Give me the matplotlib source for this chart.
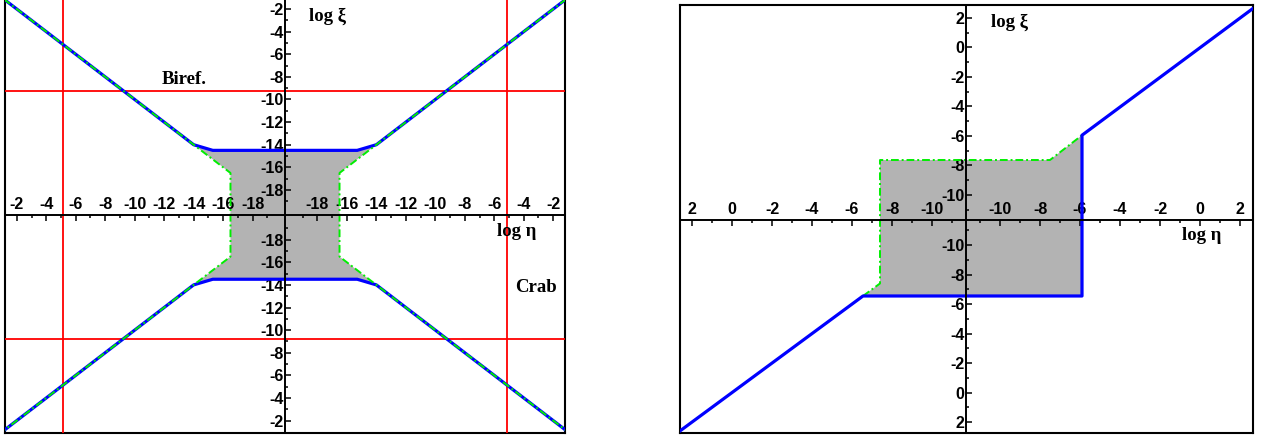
import numpy as np
import matplotlib
matplotlib.use('Agg')
import matplotlib.pyplot as plt

plt.rcParams['font.family'] = ['Liberation Sans', 'DejaVu Sans']

# both axes are folded: each half shows log10|value|, the centre is the smallest value
centre_l = -20.2
centre_r = -11.7

# ---- left panel data (sign picks the half, log is log10 of |value|) ----
blue_l_eta_sign = [-1, -1, -1, 1, 1, 1]
blue_l_eta_log = [0, -14, -15.3, -15.3, -14, 0]
blue_l_xi_log = [0, -14, -14.5, -14.5, -14, 0]

green_l_eta_log = [0, -16.5, -16.5, 0]
green_l_xi_sign = [1, 1, -1, -1]
green_l_xi_log = [0, -16.5, -16.5, 0]

shade_l_eta_sign = [-1, -1, 1, 1, 1, 1, 1, 1, -1, -1, -1, -1]
shade_l_eta_log = [-14, -15.3, -15.3, -14, -16.5, -16.5, -14, -15.3, -15.3, -14, -16.5, -16.5]
shade_l_xi_sign = [1, 1, 1, 1, 1, -1, -1, -1, -1, -1, -1, 1]
shade_l_xi_log = [-14, -14.5, -14.5, -14, -16.5, -16.5, -14, -14.5, -14.5, -14, -16.5, -16.5]

biref_xi_log = -9.25
crab_eta_log = -5.15

ticks_l = [-2, -4, -6, -8, -10, -12, -14, -16, -18]
minor_l = [-3, -5, -7, -9, -11, -13, -15, -17, -19]

# ---- right panel data ----
blue_r_eta_sign = [-1, -1, 1, 1, 1]
blue_r_eta_log = [3, -6.55, -5.9, -5.9, 3]
blue_r_xi_sign = [-1, -1, -1, 1, 1]
blue_r_xi_log = [3, -6.55, -6.55, -5.95, 3]

green_r_eta_sign = [-1, -1, -1, 1, 1]
green_r_eta_log = [-6.55, -7.4, -7.4, -7.5, -5.9]
green_r_xi_sign = [-1, -1, 1, 1, 1]
green_r_xi_log = [-6.55, -7.4, -7.63, -7.63, -5.95]

shade_r_eta_sign = [-1, 1, 1, 1, -1, -1]
shade_r_eta_log = [-7.4, -7.5, -5.9, -5.9, -6.55, -7.4]
shade_r_xi_sign = [1, 1, 1, -1, -1, -1]
shade_r_xi_log = [-7.63, -7.63, -5.95, -6.55, -6.55, -7.4]

ticks_r = [2, 0, -2, -4, -6, -8, -10]
minor_r = [1, -1, -3, -5, -7, -9, -11]


def fold(sign, logv, centre):
    return np.asarray(sign) * (np.asarray(logv, dtype=float) - centre)


W, H = 1261, 438
fig = plt.figure(figsize=(W / 100, H / 100), dpi=100)

BLUE = '#0000ff'
GREEN = '#00ee00'
GREY = '#b3b3b3'


def make_axes(rect, xlim, ylim, centre, ticks, minor, top_frame=True):
    frame = fig.add_axes(rect)
    frame.set_xticks([])
    frame.set_yticks([])
    for s in frame.spines.values():
        s.set_linewidth(1.5)
    frame.spines['top'].set_visible(top_frame)

    ax = fig.add_axes(rect)
    ax.patch.set_alpha(0)
    ax.set_xlim(*xlim)
    ax.set_ylim(*ylim)
    ax.spines['bottom'].set_visible(False)
    ax.spines['right'].set_visible(False)
    ax.spines['top'].set_position(('data', 0))
    ax.spines['left'].set_position(('data', 0))
    ax.spines['top'].set_linewidth(1.4)
    ax.spines['left'].set_linewidth(1.4)
    ax.spines['top'].set_zorder(5)
    ax.spines['left'].set_zorder(5)

    pos = np.concatenate([fold(-1, ticks, centre), fold(1, ticks, centre)])
    labs = [str(t) for t in ticks] * 2
    mpos = np.concatenate([fold(-1, minor, centre), fold(1, minor, centre)])
    ax.set_xticks(pos, labs, fontweight='bold', fontsize=11.5)
    ax.set_xticks(mpos, minor=True)
    ax.set_yticks(pos, labs, fontweight='bold', fontsize=11.5)
    ax.set_yticks(mpos, minor=True)
    ax.xaxis.set_ticks_position('top')
    ax.yaxis.set_ticks_position('left')
    ax.tick_params(axis='x', which='both', direction='in', top=True, bottom=False,
                   labeltop=True, labelbottom=False, pad=2, width=1.1)
    ax.tick_params(axis='y', which='both', direction='in', left=True, right=False,
                   labelleft=True, pad=1, width=1.1)
    ax.tick_params(which='major', length=4.5)
    ax.tick_params(which='minor', length=2.5)
    for lab in ax.get_xticklabels() + ax.get_yticklabels():
        lab.set_zorder(6)
    return ax


# ---------------- left panel ----------------
axl = make_axes([5 / W, 5 / H, 560 / W, 433 / H], (-19, 19), (-19.3, 19.0),
                centre_l, ticks_l, minor_l, top_frame=False)

axl.fill(fold(shade_l_eta_sign, shade_l_eta_log, centre_l),
         fold(shade_l_xi_sign, shade_l_xi_log, centre_l),
         color=GREY, lw=0, zorder=1)

for s in (-1, 1):
    axl.axvline(fold(s, crab_eta_log, centre_l), color='red', lw=1.3, zorder=2)
    axl.axhline(fold(s, biref_xi_log, centre_l), color='red', lw=1.3, zorder=2)

for s in (1, -1):
    axl.plot(fold(blue_l_eta_sign, blue_l_eta_log, centre_l),
             fold(s, blue_l_xi_log, centre_l), color=BLUE, lw=2.3, zorder=3)
for s in (-1, 1):
    axl.plot(fold(s, green_l_eta_log, centre_l),
             fold(green_l_xi_sign, green_l_xi_log, centre_l),
             color=GREEN, lw=1.4, dashes=(4, 1.5, 1, 1.5), zorder=4)

serif = dict(family=['Liberation Serif', 'DejaVu Serif'], fontweight='bold',
             fontsize=13.5, va='center', ha='left')


def label(x, y, s):
    fig.text(x / W, 1 - y / H, s, **serif)


label(309, 16, 'log ξ')
label(497, 232, 'log η')
label(162, 79, 'Biref.')
label(515, 287, 'Crab')

# ---------------- right panel ----------------
axr = make_axes([680 / W, 5 / H, 573 / W, 428 / H], (-14.3, 14.35), (-14.44, 14.58),
                centre_r, ticks_r, minor_r)

axr.fill(fold(shade_r_eta_sign, shade_r_eta_log, centre_r),
         fold(shade_r_xi_sign, shade_r_xi_log, centre_r),
         color=GREY, lw=0, zorder=1)
axr.plot(fold(green_r_eta_sign, green_r_eta_log, centre_r),
         fold(green_r_xi_sign, green_r_xi_log, centre_r),
         color=GREEN, lw=1.4, dashes=(4, 1.5, 1, 1.5), zorder=3)
axr.plot(fold(blue_r_eta_sign, blue_r_eta_log, centre_r),
         fold(blue_r_xi_sign, blue_r_xi_log, centre_r),
         color=BLUE, lw=2.3, zorder=4)

label(991, 22, 'log ξ')
label(1182, 236, 'log η')

fig.savefig('out.png', dpi=100)
